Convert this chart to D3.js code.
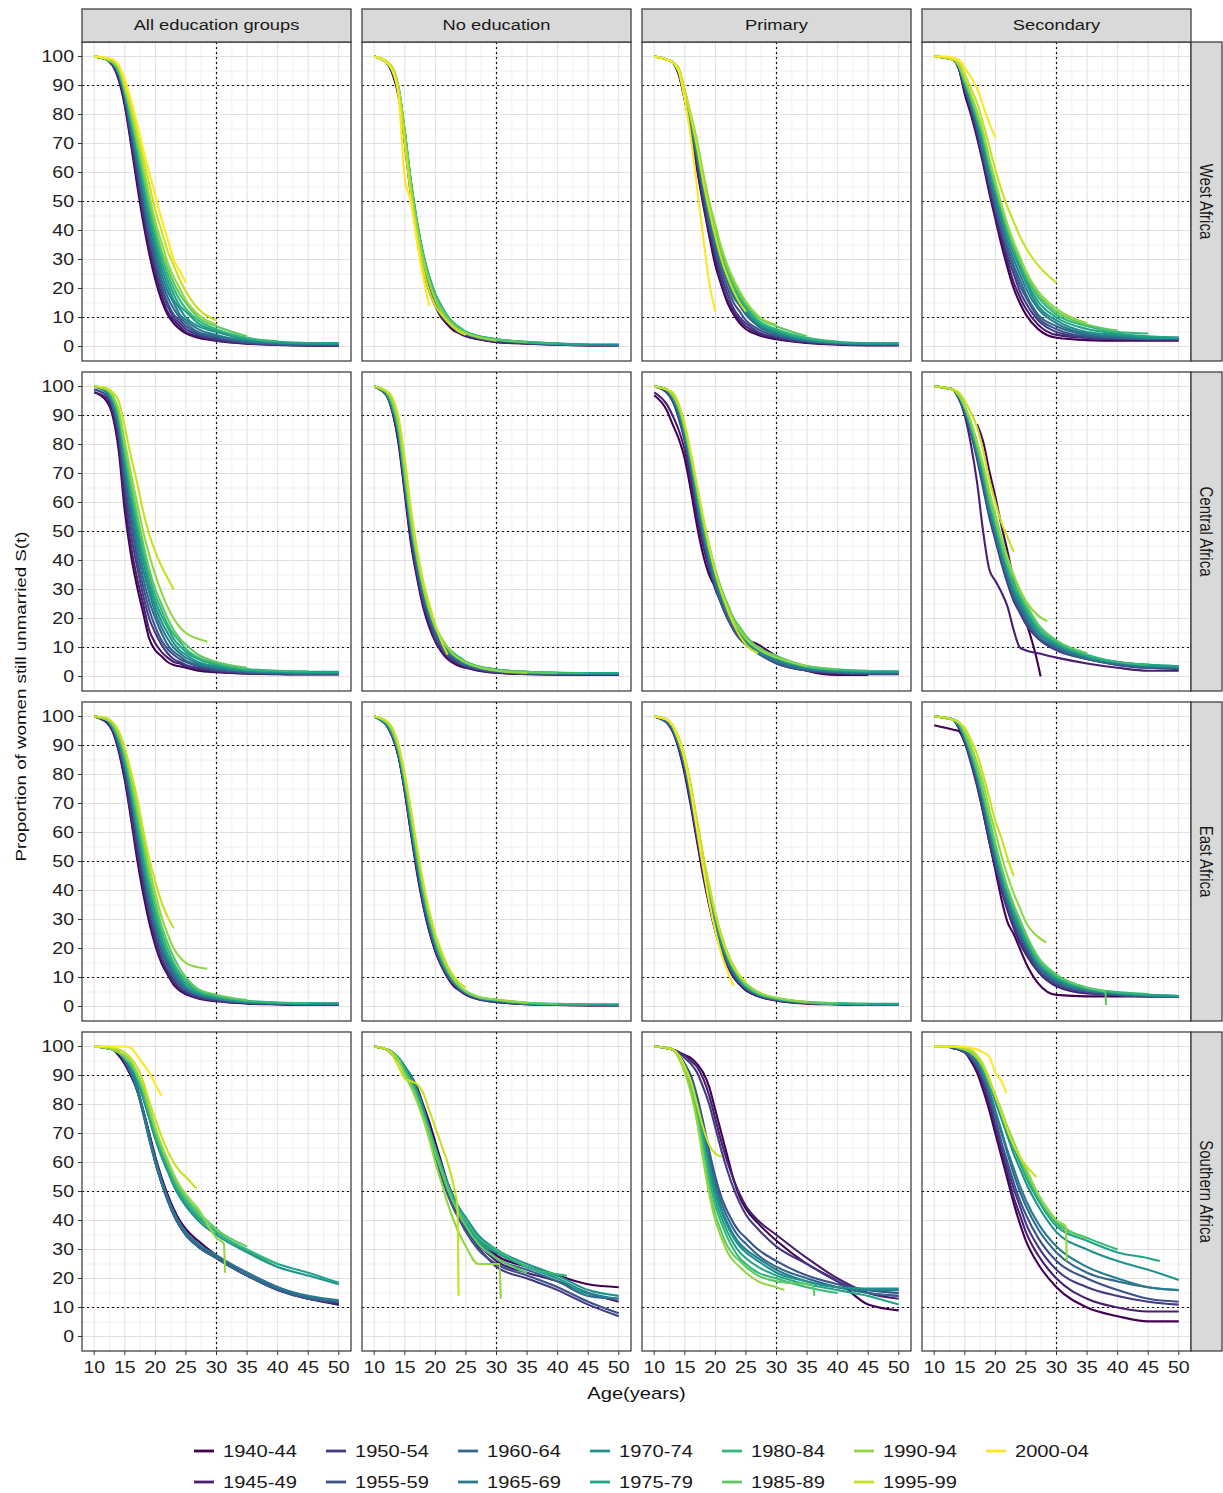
<html>
<head>
<script src="https://d3js.org/d3.v7.min.js"></script>
<style>
  body { margin: 0; background: #fff; }
  svg { display: block; font-family: "Liberation Sans", Arial, sans-serif; }
</style>
</head>
<body>
<svg width="1223" height="1493"></svg>
<script>
// ages at which the survival values below are read (a pair [age, value] is an extra off-grid point)
const ages = [10,12,13,14,15,16,17,18,19,20,21,22,23,24,25,27,30,35,40,45,50];
const cohorts = ["1940-44","1945-49","1950-54","1955-59","1960-64","1965-69","1970-74",
                 "1975-79","1980-84","1985-89","1990-94","1995-99","2000-04"];
const regions = ["West Africa","Central Africa","East Africa","Southern Africa"];
const groups = ["All education groups","No education","Primary","Secondary"];
const xTicks = [10,15,20,25,30,35,40,45,50];
const yTicks = [0,10,20,30,40,50,60,70,80,90,100];
const refAges = [30];
const refLevels = [10,50,90];

// ---- West Africa ----
const westAll = [
  [100,99,97,92,83,70,56,43,32,23,16,11,8,6,4.5,3,2,1,0.5,0.3,0.3],
  [100,99,97,93,84,71,58,45,34,25,18,12,9,7,5,3.5,2,1,0.6,0.4,0.4],
  [100,99,97,93,85,73,60,47,36,27,20,14,10,8,6,4,2.5,1.2,0.7,0.5,0.5],
  [100,99,97,94,86,74,62,49,38,29,21,15,11,9,7,4.5,3,1.4,0.8,0.6,0.6],
  [100,99,98,94,86,75,63,51,40,31,23,17,13,10,8,5,3.5,1.6,1,0.7,0.7],
  [100,99,98,94,87,76,65,53,42,33,25,19,15,11,9,6,4,2,1.2,0.8,0.8],
  [100,99,98,95,87,77,66,55,44,35,27,21,16,13,10,7,5,2.4,1.4,1,1],
  [100,99,98,95,88,78,68,57,46,37,29,23,18,14,12,8,5.5,2.8,1.6,1.2,1.2],
  [100,99,98,95,88,79,69,58,48,39,31,25,20,16,13,9,6,3,1.8],
  [100,99,98,95,89,80,70,60,50,41,33,27,22,18,15,10,7,3.5],
  [100,99,98,96,89,81,72,62,52,43,36,29,24,20,16,11,7.5],
  [100,99.5,99,97,90,83,74,65,56,47,40,33,28,23,19,13,9],
  [100,99.5,99,97,92,85,77,68,60,52,44,37,30,26,22]
];
const westNone = [
  [100,98,94,86,70,52,38,27,19,14,10,7.5,5.5,4.5,3.5,2.5,1.5,1,0.6,0.4,0.4],
  [100,98,94,87,71,53,39,28,20,14,10,8,6,4.6,3.6,2.6,1.6,1,0.6,0.4,0.4],
  [100,98,95,87,72,54,40,29,21,15,11,8.5,6.5,5,4,2.8,1.8,1.1,0.7,0.5,0.5],
  [100,98,95,88,72,55,41,30,22,16,12,9,7,5.5,4.2,3,2,1.2,0.8,0.5,0.5],
  [100,98,95,88,73,56,42,31,23,17,12,9,7,5.5,4.5,3.2,2.2,1.3,0.8,0.5,0.5],
  [100,98,95,88,73,56,42,31,23,17,13,10,7.5,6,4.8,3.4,2.3,1.4,0.9,0.6,0.6],
  [100,98,95,89,74,57,43,32,24,18,13,10,8,6,5,3.5,2.4,1.5,1,0.7,0.7],
  [100,98,95,89,74,57,43,32,24,18,14,10.5,8,6.5,5,3.6,2.5,1.5,1,0.7],
  [100,98,96,89,74,57,43,32,24,18,14,10.5,8,6.5,5,3.6,2.5,1.6,1],
  [100,98,96,89,74,56,42,31,23,17,13,10,7.5,6,4.8,3.4,2.3,1.5],
  [100,98,96,89,73,55,41,30,22,16,12,9,7,5.5,4.5,3.2,2],
  [100,98.5,96,88,70,52,38,27,19,14,11,8.5,6.5,5,4],
  [100,98,95,86,58,50,36,24,14]
];
const westPrimary = [
  [100,99,98,94,85,74,61,49,38,28,21,15,11,8,6,4,2.5,1.2,0.6,0.4,0.4],
  [100,99,98,94,85,75,62,50,39,30,22,16,12,9,7,4.5,2.8,1.4,0.8,0.5,0.5],
  [100,99,98,94,86,76,64,52,41,32,24,18,13,10,8,5,3.2,1.6,1,0.7,0.7],
  [100,99,98,94,86,76,65,53,42,33,26,20,15,12,9,6,3.6,1.8,1,0.7,0.7],
  [100,99,98,95,86,77,66,54,44,35,28,22,17,14,11,7,4.2,2,1.1,0.8,0.8],
  [100,99,98,95,87,77,66,55,45,36,29,23,18,15,12,7.5,4.6,2.2,1.2,0.9,0.9],
  [100,99,98,95,87,78,67,56,46,37,30,24,19,16,12.5,8,5,2.4,1.3,1,1],
  [100,99,98,95,87,78,68,57,47,38,31,25,20,16.5,13,8.5,5.5,2.6,1.5,1.1,1.1],
  [100,99,98,95,88,79,69,58,48,40,32,26,21,17,14,9,6,3,1.7],
  [100,99,98,95,88,79,70,59,49,41,33,27,22,18,15,10,7,3.5],
  [100,99,98,96,88,80,71,60,50,42,34,28,23,19,15.5,10.5,7.5],
  [100,99,98,96,88,79,69,57,47,38,30,24,19,15,12],
  [100,99,98,95,85,72,55,38,22,12]
];
const westSecondary = [
  [100,99.5,99,96,87,80,72,63,53,44,35,27,20,15,11,6,3,2.2,2,2,2],
  [100,99.5,99,96,88,81,73,64,54,45,37,29,22,17,13,7.5,4,3,2.5,2.5,2.5],
  [100,99.5,99,96,89,82,74,65,56,47,39,31,25,19,15,9,5,3,2.5,2.5,2.5],
  [100,99.5,99,96,89,83,75,66,57,48,40,33,27,21,17,10,6,3.5,3,3,3],
  [100,99.5,99,97,90,83,76,67,58,49,41,34,28,23,18,11,7,4,3,2.5,2.5],
  [100,99.5,99,97,90,84,77,68,59,51,43,36,30,25,20,13,8,4.5,3.5,3,3],
  [100,99.5,99,97,91,85,78,70,61,53,45,38,32,27,22,14,9,5,4,3,3],
  [100,99.5,99,97,91,85,78,71,62,54,46,39,33,28,23,15.5,10,6,4.5,3.5,3],
  [100,99.5,99,97,91,86,79,72,63,55,47,40,34,29,24,17,11,7,5,4.5],
  [100,99.5,99,97,92,86,80,73,64,56,48,41,35,30,25,18,12,7.5,5.5],
  [100,99.5,99,97,92,87,81,74,65,57,49,42,36,31,26,19,13,8],
  [100,99.5,99,98,94,89,84,77,69,61,54,48,43,38,34,28,22],
  [100,100,99.5,99,96,93,89,83,77,72]
];

// ---- Central Africa ----
const centralAll = [
  [98,95,90,78,57,42,31,22,13,9,7,5,4,3.5,3,2,1.5,1,0.8,0.7,0.7],
  [98,96,91,80,60,45,34,25,16,11.5,8.5,6.5,5,4.5,3.5,2.5,1.7,1.1,0.9,0.8,0.8],
  [99,97,93,83,64,49,38,28,20,15,11,8,6,5,4,3,2,1.2,1,0.9,0.9],
  [99,97,93,84,67,53,41,31,23,17,12.5,9.5,7.5,6,5,3.5,2.3,1.4,1.1,1,1],
  [100,98,94,86,70,56,44,34,26,20,15,11,8.5,7,5.5,4,2.7,1.6,1.2,1,1],
  [100,98,95,87,72,59,47,37,29,22,17,13,10,8,6.5,4.5,3,1.8,1.3,1.1,1.1],
  [100,98,95,88,74,61,50,40,31,24,19,15,11.5,9,7.5,5,3.5,2,1.5,1.3,1.3],
  [100,99,96,89,76,63,52,42,33,26,21,17,13,10.5,8.5,6,4,2.3,1.8,1.6,1.6],
  [100,99,96,90,77,65,54,44,35,28,23,18,14.5,12,9.5,6.5,4.5,2.6,2,1.8],
  [100,99,97,91,79,67,56,46,37,30,25,20,16,13,11,7.5,5,3],
  [100,99,97,92,81,70,60,50,42,35,29,24,20,17,15,13,[28.5,12]],
  [100,99.5,98,95,86,76,67,57,49,43,38,34,30],
  []
];
const centralNone = [
  [100,97,91,80,63,46,34,24,17,12,8.5,6,4.5,3.5,3,2,1.2,0.8,0.6,0.5,0.5],
  [100,97,91,81,64,47,35,25,18,12.5,9,6.5,5,4,3.2,2.2,1.3,0.9,0.7,0.6,0.6],
  [100,97,92,82,65,49,36,26,19,13,9.5,7,5.5,4.3,3.5,2.4,1.5,1,0.8,0.7,0.7],
  [100,97,92,83,66,50,37,27,20,14,10,7.5,6,4.6,3.7,2.6,1.6,1.1,0.9,0.8,0.8],
  [100,97,92,83,67,51,38,28,21,15,11,8,6.5,5,4,2.8,1.8,1.2,1,0.9,0.9],
  [100,97,93,84,68,52,39,29,22,16,12,9,7,5.5,4.3,3,2,1.3,1.1,1,1],
  [100,98,93,84,68,52,40,30,22,16.5,12.5,9.5,7.5,6,4.7,3.3,2.2,1.5,1.2,1.1,1.1],
  [100,98,93,85,69,53,41,31,23,17,13,10,8,6.5,5,3.5,2.4,1.6,1.3,1.2,1.2],
  [100,98,94,85,69,53,41,31,23,17,13,10,8,6.5,5,3.5,2.4,1.6,1.3,1.2],
  [100,98,94,86,70,54,41,31,23,17,13,10,7.5,6,4.8,3.3,2.2,1.5,1.2],
  [100,98,95,87,72,55,42,31,23,17,13,10,7.5,6,4.8,3.3,2,1.2],
  [100,98.5,96,89,75,58,44,33,25,18,12,7.5],
  []
];
const centralPrimary = [
  [97,92,87,82,75,64,52,42,35,31,29,22,18,15,13,11,7,2,0.5,0.5],
  [98,94,90,85,78,67,55,45,37,30,25,20,17,14,12,9,5,2,1,0.8,0.8],
  [100,98,95,89,81,70,58,47,38,31,25,20,16,13,11,8,4.5,2,1.2,1,1],
  [100,98,95,90,82,71,59,48,39,31,25,20,16,13,11,8,4.5,2.2,1.3,1,1],
  [100,99,96,91,83,72,60,49,40,32,26,21,17,14,11.5,8,5,2.4,1.5,1.2,1.2],
  [100,99,96,91,83,73,61,50,41,33,27,22,18,15,12,8.5,5.5,2.6,1.7,1.4,1.4],
  [100,99,97,92,84,74,62,51,42,34,28,23,19,15.5,12.5,9,6,3,2,1.6,1.6],
  [100,99,97,92,85,75,63,52,43,35,29,24,19.5,16,13,9.5,6.5,3.2,2.2,1.8,1.8],
  [100,99,97,93,85,75,64,53,44,36,30,24,20,16.5,13.5,10,7,3.5,2.4,2],
  [100,99,97,93,86,76,65,54,45,37,30,25,20,17,14,10,7,3.6,2.5],
  [100,99,97,93,86,76,65,54,44,36,29,24,19,16,13,9.5,6.5,3.5],
  [100,99,98,94,87,77,66,55,45,36,29,23,18,14,11,8],
  []
];
const centralSecondary = [
  [null,null,null,null,null,null,87,81,71,62,52,43,33,25,19,4,[27.4,0]],
  [100,99.5,99,96,90,80,67,50,37,33,29,24,16,10,9,8,6.5,4.5,3,2,2],
  [100,99.5,99,96,91,84,75,65,55,47,39,32,26,22,18,13,9,6,4,3,2.5],
  [100,99.5,99,96,91,84,76,66,56,48,40,33,27,23,19,13.5,9.5,6,4,3,3],
  [100,99.5,99,97,92,85,77,67,57,49,41,34,28,24,20,14,10,6,4.5,3.5,3],
  [100,99.5,99,97,92,85,77,68,58,50,42,35,29,25,21,15,10.5,6.5,4.5,3.5,3],
  [100,99.5,99,97,92,86,78,69,59,51,43,36,30,26,22,15.5,11,7,5,4,3.5],
  [100,99.5,99,97,93,86,79,70,60,52,44,37,31,27,23,16,11.5,7,5,4,3.5],
  [100,99.5,99,97,93,87,79,71,61,53,45,38,32,28,24,17,12,7.5,5,4],
  [100,99.5,99,97,93,87,80,72,62,54,46,39,34,29,25,18,12.5,8],
  [100,99.5,99,97,93,88,81,73,64,56,48,41,35,30,26,21,[28.5,19]],
  [100,99.5,99,98,95,91,86,78,68,60,53,48,43],
  []
];

// ---- East Africa ----
const eastAll = [
  [100,98,95,88,78,65,51,39,29,21,15,11,7.5,5.5,4.2,2.8,1.8,1,0.7,0.5,0.5],
  [100,98,95,89,79,66,53,41,31,22,16,11.5,8,6,4.6,3,2,1.1,0.8,0.6,0.6],
  [100,98,96,89,80,68,55,43,32,24,17,12.5,9,6.5,5,3.2,2.1,1.2,0.9,0.7,0.7],
  [100,99,96,90,82,71,58,46,35,26,19,14,10,7.5,5.6,3.6,2.4,1.3,1,0.8,0.8],
  [100,99,96,91,83,72,60,47,36,27,20,15,11,8,6,4,2.6,1.4,1,0.8,0.8],
  [100,99,96,91,83,73,61,49,38,29,21,16,12,9,6.5,4.3,2.8,1.5,1.1,0.9,0.9],
  [100,99,97,92,84,74,62,50,39,30,23,17,13,9.5,7,4.6,3,1.6,1.2,1,1],
  [100,99,97,92,85,75,63,52,41,32,24,18,14,10.5,8,5,3.3,1.8,1.3,1.1,1.1],
  [100,99,97,93,86,76,65,54,43,34,26,20,15,11.5,9,5.5,3.7,2,1.4,1.2],
  [100,99,97,93,87,78,67,56,45,36,28,22,17,13,10,6,4,2.2],
  [100,99,98,94,88,79,69,58,48,39,31,25,20,17,15,13.5,[28.5,13]],
  [100,99.5,98,95,89,81,72,61,51,43,36,31,27],
  []
];
const eastNone = [
  [100,97,93,86,74,60,46,35,26,19,14,10,7,5.5,4,2.5,1.5,0.8,0.5,0.4,0.4],
  [100,97,93,86,74,60,47,35,26,19,14,10,7.5,5.5,4.2,2.6,1.6,0.8,0.5,0.4,0.4],
  [100,97,93,86,75,61,48,36,27,20,14.5,10.5,7.7,5.7,4.4,2.7,1.7,0.9,0.6,0.5,0.5],
  [100,97,93,87,75,62,48,37,28,20,15,11,8,6,4.5,2.8,1.8,0.9,0.6,0.5,0.5],
  [100,97,94,87,76,62,49,37,28,21,15,11,8,6,4.6,2.9,1.9,1,0.7,0.5,0.5],
  [100,97,94,87,76,63,50,38,29,21,15.5,11.5,8.3,6.2,4.7,3,2,1,0.7,0.6,0.6],
  [100,98,94,88,77,63,50,39,29,22,16,12,8.6,6.4,4.8,3,2,1.1,0.8,0.6,0.6],
  [100,98,94,88,77,64,51,39,30,22,16,12,9,6.6,5,3.2,2.2,1.2,0.8,0.7,0.7],
  [100,98,95,88,78,65,52,40,30,23,17,12.5,9.2,6.8,5.2,3.3,2.3,1.2,0.9,0.7],
  [100,98,95,89,79,66,53,41,31,23,17,12.5,9.2,6.8,5.2,3.3,2.3,1.3,0.9],
  [100,98,95,89,79,67,54,42,32,24,18,13,9.5,7,5.3,3.4,2.4,1.3],
  [100,98.5,96,90,80,68,55,43,33,25,19,14,10.5,8,6.5],
  []
];
const eastPrimary = [
  [100,98,95,89,80,69,57,45,35,26,19,14,10,7.5,5.5,3.5,2,1,0.7,0.5,0.5],
  [100,98,95,89,81,70,58,46,35,26,19,14,10,7.8,5.8,3.6,2.1,1.1,0.8,0.6,0.6],
  [100,98,95,90,82,71,59,47,36,27,20,14.5,10.5,8,6,3.8,2.2,1.1,0.8,0.6,0.6],
  [100,98,96,90,82,71,59,47,37,28,20.5,15,11,8.2,6.2,3.9,2.3,1.2,0.9,0.7,0.7],
  [100,98,96,90,83,72,60,48,38,29,21,15.5,11.5,8.5,6.4,4,2.4,1.3,0.9,0.7,0.7],
  [100,99,96,91,83,73,61,49,38,29,22,16,12,8.8,6.6,4.2,2.5,1.3,1,0.8,0.8],
  [100,99,96,91,84,73,61,49,39,30,22,16.5,12.3,9,6.8,4.3,2.6,1.4,1,0.8,0.8],
  [100,99,96,91,84,74,62,50,40,31,23,17,12.6,9.3,7,4.4,2.7,1.4,1,0.9,0.9],
  [100,99,97,92,85,75,63,51,40,31,23.5,17.5,13,9.6,7.2,4.5,2.8,1.5,1.1,0.9],
  [100,99,97,92,85,75,63,51,41,32,24,18,13.5,10,7.5,4.6,2.9,1.5,1.1],
  [100,99,97,92,86,76,64,52,41,32,24.5,18.5,14,10.5,8,5,3,1.6],
  [100,99,97,93,86,76,64,52,42,32,24,18,13.5,10.5,8.5],
  [100,99,97,92,85,74,61,48,36,26,18,12,7]
];
const eastSecondary = [
  [97,96,95.5,95,91,85,77,67,57,47,37,29,25,20,15,8,4,3.5,3.5,3.5,3.5],
  [100,99.5,99,96,91,84,76,67,57,48,40,33,27,22,18,12,7,4.5,4,3.5,3.5],
  [100,99.5,99,97,92,85,77,68,58,49,41,34,28,23,19,12.5,7.5,5,4,3.5,3.5],
  [100,99.5,99,97,92,85,78,69,59,50,42,35,29,24,20,13,8,5,4,3.5,3.5],
  [100,99.5,99,97,92,86,79,70,60,51,43,36,30,25,21,14,8.5,5.5,4.3,3.7,3.5],
  [100,99.5,99,97,93,87,79,71,61,52,44,37,31,26,22,14.5,9,5.5,4.5,3.8,3.5],
  [100,99.5,99,97,93,87,80,72,62,53,45,38,32,27,22.5,15,9.5,6,4.6,4,3.6],
  [100,99.5,99,97,93,88,81,73,63,54,46,39,33,28,23,15.5,10,6,4.7,4,3.6],
  [100,99.5,99,98,94,88,81,73,64,55,47,40,34,29,24,16,10.5,6.5,5,4.3],
  [100,99.5,99,98,94,88,82,74,65,56,48,41,35,30,25,17,11,6.5,[38,5],[38.1,0.5]],
  [100,99.5,99,98,95,90,84,77,68,60,52,45,39,34,29,24,[28.3,22]],
  [100,99.5,99,98,96,92,87,80,72,64,58,51,45],
  []
];

// ---- Southern Africa ----
const southAll = [
  [100,99.5,99,97,94,90,85,78,70,62,55,49,44,40,37,33,28,22,17,13.5,11],
  [100,99.5,99,97,94,90,85,78,70,61,54,48,43,39,36,32,27,21,16.5,13,11],
  [100,99.5,99,98,95,92,86,78,69,60,53,47,42,38,35,31,27,21,16,13,11.5],
  [100,99.5,99,98,95,91,85,77,68,60,53,47,42,38,35,31,27,21,16,13,12],
  [100,99.5,99,98,95,91,85,77,68,60,53,47,42,38,35,31,27,21,16.5,13.5,12],
  [100,99.5,99,98,96,92,86,78,69,61,54,48,43,39,36,32,28,22,17,14,12.5],
  [100,99.5,99,98,96,93,88,82,75,68,62,57,52,48,45,40,35,29,24,21,18],
  [100,99.5,99,98,96,93,89,83,76,69,63,58,53,49,46,41,36,29.5,25,22,18.5],
  [100,99.5,99,98,96,94,90,84,77,70,64,59,54,50,47,42,36,30,25],
  [100,99.5,99,98,96,94,90,85,78,71,65,60,55,51,48,43,37,31],
  [100,99.5,99,98,97,95,91,86,79,72,66,61,56,52,49,44,34,[31.2,32],[31.4,22]],
  [100,100,99.5,99,98,96,93,88,81,75,69,64,60,57,55,[26.7,51]],
  [100,100,100,100,100,99.5,97,94,91,87,83]
];
const southNone = [
  [100,99,98,96,93,90,86,80,74,67,60,53,48,43,40,34,28,24,21,18,17],
  [100,99,98,96,93,89,84,78,71,64,57,51,46,42,38,32,26,22,19,15,12],
  [100,99,98,95,92,88,83,77,70,63,56,50,45,40,37,31,24,20,16,11,7],
  [100,99,97,95,92,88,83,76,69,62,55,49,44,40,36,30,25,21,17,12,8],
  [100,99,98,96,93,89,84,77,70,63,57,51,46,42,39,33,27,23,19,14,13],
  [100,99,98,96,93,89,84,78,71,64,58,52,47,43,40,34,29,24,20,15,13],
  [100,99,98,96,93,90,85,79,72,65,59,53,48,44,41,35,30,25,21,16,14],
  [100,99,98,96,92,88,83,77,70,63,57,51,46,42,39,33,29,24,20,14],
  [100,99,98,96,92,88,83,77,71,65,58,52,47,43,40,34,30,24,[41.5,21]],
  [100,99,98,95,91,87,82,76,70,63,57,51,46,42,38,32,27,22],
  [100,99,98,95,90,86,81,75,68,60,53,46,40,35,31,25,25,[30.5,25],[30.7,13]],
  [100,99,97,93,89,88,87,84,78,72,66,60,52,[23.6,45],[23.8,14]],
  []
];
const southPrimary = [
  [100,99.5,99,98,97,96,94,91,86,78,70,62,54,48,44,39,33,25,19,11,9],
  [100,99.5,99,98,97,95,93,89,83,75,67,60,54,49,45,40,35,27,20,15,13],
  [100,99.5,99,98,96,94,91,86,80,72,64,57,51,46,42,37,31,25,19,15,14],
  [100,99.5,99,97,94,90,83,74,64,55,48,43,39,36,34,30,26,21,18,16,15],
  [100,99.5,99,97,94,89,82,72,62,53,46,41,37,34,32,28,24,20,17,15,14],
  [100,99.5,99,97,93,88,80,70,60,51,44,39,35,32,30,27,23,19,17,16,16],
  [100,99.5,99,97,93,88,80,69,58,49,43,38,34,31,29,26,22,19,17,16.5,16.5],
  [100,99.5,99,97,93,87,79,68,56,47,41,36,32,29,27,24,21,18,16,14,11],
  [100,99.5,99,97,92,86,77,66,54,45,39,34,30,27,25,22,20,17,15],
  [100,99.5,99,97,92,85,75,63,51,42,36,31,28,26,24,21,19,18,[36,17.5],[36.2,14]],
  [100,99.5,99,96,91,84,74,61,49,40,34,29,26,24,22,19,17,[31.3,16]],
  [100,99.5,99,97,93,88,80,72,66,63,62],
  []
];
const southSecondary = [
  [100,100,99.5,99,98,95,91,85,78,70,62,54,46,39,33,25,17,10,7,5.2,5.2],
  [100,100,99.5,99,98,96,92,87,80,72,64,56,48,42,36,28,20,13,10,8.6,8.6],
  [100,100,99.5,99,98,96,93,88,82,74,66,58,51,45,39,31,23,17,14,12,11],
  [100,100,99.5,99,98,96,93,89,83,75,67,60,53,47,42,34,26,20,16,13,12],
  [100,100,100,99.5,99,97,94,90,84,77,70,63,56,50,45,37,29,22,19,17,16],
  [100,100,100,99.5,99,97,95,90,85,78,71,64,58,52,47,39,31,24,20,17,16],
  [100,100,100,99.5,99,98,96,92,87,81,75,69,63,58,53,45,36,30,26,23,19.5],
  [100,100,100,99.5,99,98,96,92,87,82,76,70,65,60,55,47,38,33,29,27,[46.9,26]],
  [100,100,100,99.5,99,98,96,93,88,83,77,71,66,61,56,48,39,34,30],
  [100,100,100,99.5,99,98,96,93,88,83,77,72,67,62,57,49,40,34],
  [100,100,100,99.5,99,98,96,93,88,83,78,72,67,62,58,49,40,[31.5,38],[31.7,26]],
  [100,100,100,100,99.5,99,97,94,89,83,77,71,66,62,59,[26.7,55]],
  [100,100,100,100,100,99.5,99,98,96.5,91,88,[21.8,84]]
];

const panels = [
  [westAll, westNone, westPrimary, westSecondary],
  [centralAll, centralNone, centralPrimary, centralSecondary],
  [eastAll, eastNone, eastPrimary, eastSecondary],
  [southAll, southNone, southPrimary, southSecondary]
];

// layout
const svg = d3.select("svg");
const left0 = 82, colStep = 280, pw = 269;
const top0 = 42, rowStep = 330, ph = 319;
const stretch = 1.22;   // the source picture is widened horizontally

const color = i => d3.interpolateViridis(i / (cohorts.length - 1));

function toPoints(vals) {
  const pts = [];
  let i = 0;
  vals.forEach(v => {
    if (Array.isArray(v)) pts.push({ a: v[0], v: v[1] });
    else { if (v !== null) pts.push({ a: ages[i], v: v }); i++; }
  });
  return pts;
}

function label(sel, x, y, str, size, anchor, rot, fill) {
  const g = sel.append("g")
    .attr("transform", "translate(" + x + "," + y + ") scale(" + stretch + ",1)" + (rot ? " rotate(" + rot + ")" : ""));
  return g.append("text")
    .attr("text-anchor", anchor || "middle")
    .attr("dominant-baseline", "central")
    .attr("font-size", size)
    .attr("fill", fill || "#1a1a1a")
    .text(str);
}

panels.forEach((row, r) => {
  row.forEach((series, c) => {
    const x0 = left0 + c * colStep, y0 = top0 + r * rowStep;
    const x = d3.scaleLinear().domain([8, 52]).range([x0, x0 + pw]);
    const y = d3.scaleLinear().domain([-5, 105]).range([y0 + ph, y0]);
    const g = svg.append("g");

    g.append("rect").attr("x", x0).attr("y", y0).attr("width", pw).attr("height", ph).attr("fill", "#fff");

    // minor grid
    const xMinor = xTicks.slice(0, -1).map(d => d + 2.5);
    const yMinor = yTicks.slice(0, -1).map(d => d + 5);
    g.selectAll(".vxm").data(xMinor).enter().append("line")
      .attr("x1", d => x(d)).attr("x2", d => x(d)).attr("y1", y0).attr("y2", y0 + ph)
      .attr("stroke", "#ECECEC").attr("stroke-width", 0.8);
    g.selectAll(".hym").data(yMinor).enter().append("line")
      .attr("y1", d => y(d)).attr("y2", d => y(d)).attr("x1", x0).attr("x2", x0 + pw)
      .attr("stroke", "#ECECEC").attr("stroke-width", 0.8);
    // major grid
    g.selectAll(".vx").data(xTicks).enter().append("line")
      .attr("x1", d => x(d)).attr("x2", d => x(d)).attr("y1", y0).attr("y2", y0 + ph)
      .attr("stroke", "#E0E0E0").attr("stroke-width", 1);
    g.selectAll(".hy").data(yTicks).enter().append("line")
      .attr("y1", d => y(d)).attr("y2", d => y(d)).attr("x1", x0).attr("x2", x0 + pw)
      .attr("stroke", "#E0E0E0").attr("stroke-width", 1);

    // reference lines
    g.selectAll(".rh").data(refLevels).enter().append("line")
      .attr("y1", d => y(d)).attr("y2", d => y(d)).attr("x1", x0).attr("x2", x0 + pw)
      .attr("stroke", "#111").attr("stroke-width", 1.2).attr("stroke-dasharray", "2,3");
    g.selectAll(".rv").data(refAges).enter().append("line")
      .attr("x1", d => x(d)).attr("x2", d => x(d)).attr("y1", y0).attr("y2", y0 + ph)
      .attr("stroke", "#111").attr("stroke-width", 1.2).attr("stroke-dasharray", "2,3");

    // survival curves
    const line = d3.line().x(d => x(d.a)).y(d => y(d.v)).curve(d3.curveMonotoneX);
    series.forEach((vals, i) => {
      const pts = toPoints(vals);
      if (pts.length < 2) return;
      g.append("path").datum(pts)
        .attr("fill", "none")
        .attr("stroke", color(i))
        .attr("stroke-width", 2.1)
        .attr("stroke-linejoin", "round")
        .attr("d", line);
    });

    g.append("rect").attr("x", x0).attr("y", y0).attr("width", pw).attr("height", ph)
      .attr("fill", "none").attr("stroke", "#333").attr("stroke-width", 1.2);

    // y axis on the first column
    if (c === 0) {
      yTicks.forEach(t => {
        g.append("line").attr("x1", x0 - 4).attr("x2", x0).attr("y1", y(t)).attr("y2", y(t))
          .attr("stroke", "#333").attr("stroke-width", 1);
        label(g, x0 - 8, y(t), t, 16, "end", 0, "#222");
      });
    }
    // x axis on the last row
    if (r === panels.length - 1) {
      xTicks.forEach(t => {
        g.append("line").attr("x1", x(t)).attr("x2", x(t)).attr("y1", y0 + ph).attr("y2", y0 + ph + 4)
          .attr("stroke", "#333").attr("stroke-width", 1);
        label(g, x(t), y0 + ph + 17, t, 16, "middle", 0, "#222");
      });
    }
    // column strips
    if (r === 0) {
      g.append("rect").attr("x", x0).attr("y", 9).attr("width", pw).attr("height", top0 - 9)
        .attr("fill", "#D9D9D9").attr("stroke", "#333").attr("stroke-width", 1.2);
      label(g, x0 + pw / 2, 25.5, groups[c], 15, "middle");
    }
    // row strips
    if (c === row.length - 1) {
      g.append("rect").attr("x", x0 + pw).attr("y", y0).attr("width", 1222 - (x0 + pw)).attr("height", ph)
        .attr("fill", "#D9D9D9").attr("stroke", "#333").attr("stroke-width", 1.2);
      label(g, x0 + pw + (1222 - x0 - pw) / 2, y0 + ph / 2, regions[r], 15, "middle", 90);
    }
  });
});

// axis titles
const plotMidX = left0 + (3 * colStep + pw) / 2;
label(svg, plotMidX, 1393, "Age(years)", 16.5, "middle", 0, "#111");
svg.append("text")
  .attr("transform", "translate(20," + (top0 + (3 * rowStep + ph) / 2) + ") rotate(-90)")
  .attr("text-anchor", "middle").attr("dominant-baseline", "central")
  .attr("font-size", 15).attr("textLength", 330).attr("lengthAdjust", "spacingAndGlyphs")
  .attr("fill", "#111")
  .text("Proportion of women still unmarried S(t)");

// legend, filled column by column over two rows
const legend = svg.append("g");
cohorts.forEach((name, i) => {
  const col = Math.floor(i / 2), rw = i % 2;
  const kx = 194 + col * 132, ky = 1451 + rw * 31;
  legend.append("line").attr("x1", kx).attr("x2", kx + 20).attr("y1", ky).attr("y2", ky)
    .attr("stroke", color(i)).attr("stroke-width", 2.8);
  label(legend, kx + 29, ky, name, 16.5, "start", 0, "#1a1a1a");
});
</script>
</body>
</html>
